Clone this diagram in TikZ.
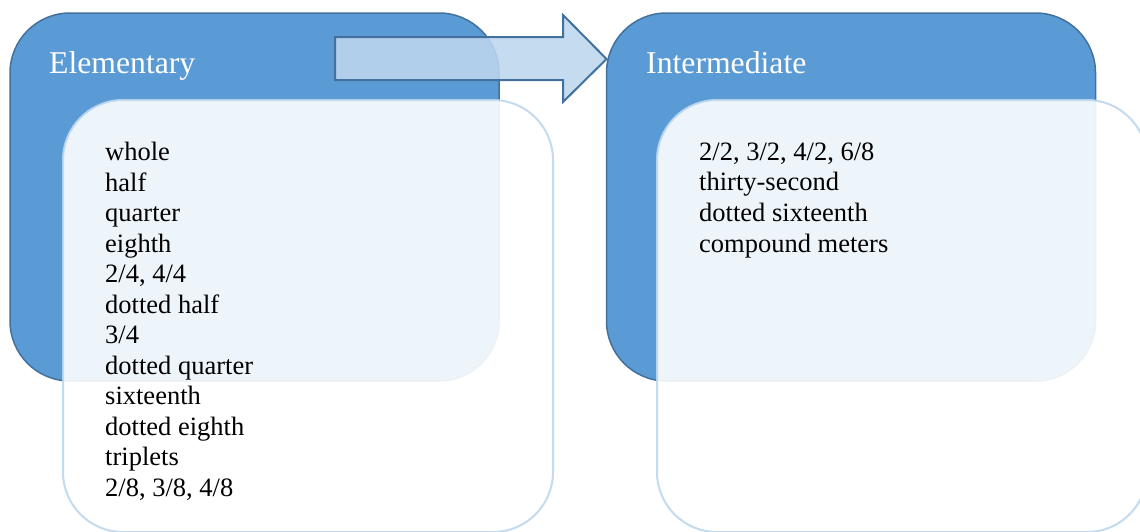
\documentclass[tikz,border=0pt]{standalone}
\usepackage{fontspec}
\setmainfont{Liberation Serif}
\definecolor{backfill}{HTML}{5B9BD5}
\definecolor{backline}{HTML}{41719C}
\definecolor{frontline}{HTML}{BDD7EE}
\definecolor{arrowfill}{HTML}{BDD7EE}
\tikzset{
  backbox/.style={rectangle, draw=backline, line width=1.5pt, fill=backfill,
    rounded corners=60pt, inner sep=0pt, outer sep=0pt,
    minimum width=489pt, minimum height=368pt},
  frontbox/.style={rectangle, draw=frontline, line width=2pt, fill=white,
    fill opacity=0.9, draw opacity=0.9, rounded corners=60pt, inner sep=0pt,
    outer sep=0pt, minimum width=490pt, minimum height=432pt},
  titletext/.style={anchor=base west, inner sep=0pt, text=white,
    font={\fontsize{31.7}{38}\selectfont}},
  listtext/.style={anchor=base west, inner sep=0pt, align=left, text=black,
    font={\fontsize{26.5}{30.55}\selectfont}},
  blockarrow/.style={draw=backline, line width=2pt, fill=arrowfill,
    fill opacity=0.88, line join=miter}
}
\begin{document}
\begin{tikzpicture}[x=1pt,y=-1pt]
\useasboundingbox (0,0) rectangle (1140,531);
\clip (0,0) rectangle (1140,531);
% left group
\node[backbox] (lback) at (254.5,197) {};
\node[titletext] (ltitle) at (49,73) {Elementary};
\node[frontbox] (lfront) at (308,316) {};
% right group
\node[backbox] (rback) at (851,197) {};
\node[titletext] (rtitle) at (646,73) {Intermediate};
\node[frontbox] (rfront) at (902,316) {};
% arrow
\draw[blockarrow] (335,37) -- (563,37) -- (563,15) -- (606.5,59)
  -- (563,102) -- (563,80) -- (335,80) -- cycle;
% lists (base anchor = baseline of last line)
\node[listtext] (llist) at (105,496.5) {whole\\half\\quarter\\eighth\\2/4, 4/4\\dotted half\\3/4\\dotted quarter\\sixteenth\\dotted eighth\\triplets\\2/8, 3/8, 4/8};
\node[listtext] (rlist) at (699,252) {2/2, 3/2, 4/2, 6/8\\thirty-second\\dotted sixteenth\\compound meters};
\end{tikzpicture}
\end{document}
